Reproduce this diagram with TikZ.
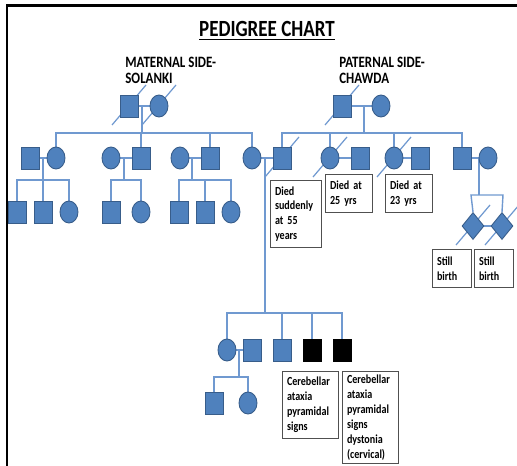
\documentclass[tikz,border=0pt]{standalone}
\usepackage{fontspec}
\setmainfont{Carlito}[FakeStretch=0.82]
\usetikzlibrary{shapes.geometric,backgrounds}

\definecolor{pedfill}{HTML}{4F81BD}
\definecolor{peddraw}{HTML}{385D8A}
\definecolor{pedline}{HTML}{7099D0}
\definecolor{boxgray}{HTML}{505050}

\begin{document}
\begin{tikzpicture}[
    x=0.02cm, y=-0.02cm,
    male/.style={draw=peddraw, fill=pedfill, line width=0.5pt, minimum width=3.6mm, minimum height=4.4mm, inner sep=0pt},
    female/.style={male, ellipse},
    unknown/.style={male, diamond, minimum width=4.4mm, minimum height=5.4mm},
    affected/.style={male, draw=black, fill=black},
    line/.style={draw=pedline, line width=0.8pt},
    slash/.style={draw=pedline, line width=0.7pt},
    note/.style={draw=boxgray, line width=0.7pt, fill=white, anchor=north west, align=left, inner sep=2.5pt, font=\bfseries\fontsize{7}{8.5}\selectfont},
    side/.style={anchor=north west, align=left, inner sep=0pt, font=\bfseries\fontsize{9}{9.2}\selectfont}
]
\useasboundingbox (0,0) rectangle (517,466);
\clip (0,0) rectangle (517,466);

% titles
\node[font=\bfseries\fontsize{13.2}{14}\selectfont] (title) at (267,31) {\underline{PEDIGREE CHART}};
\node[side] (mat) at (125,57) {MATERNAL SIDE-\\SOLANKI};
\node[side] (pat) at (339,57) {PATERNAL SIDE-\\CHAWDA};

% generation I
\node[male] (mgf) at (129,106) {};
\node[female] (mgm) at (159,106) {};
\node[male] (pgf) at (342,106) {};
\node[female] (pgm) at (381,106) {};

% generation II, maternal side
\node[male] (u1) at (30,158) {};
\node[female] (ma1) at (56,158) {};
\node[female] (w2) at (111,158) {};
\node[male] (ma2) at (141,158) {};
\node[female] (w3) at (180,158) {};
\node[male] (ma3) at (210,158) {};
\node[female] (mo) at (252,158) {};

% generation II, paternal side
\node[male] (fa) at (282,158) {};
\node[female] (pa1) at (330,158) {};
\node[male] (h1) at (360,158) {};
\node[female] (pa2) at (394,158) {};
\node[male] (h2) at (420,158) {};
\node[male] (pa3) at (462,158) {};
\node[female] (w4) at (488,158) {};

% cousins
\node[male] (k11) at (17,212) {};
\node[male] (k12) at (43,212) {};
\node[female] (k13) at (69,212) {};
\node[male] (k21) at (111,212) {};
\node[female] (k22) at (141,212) {};
\node[male] (k31) at (179,212) {};
\node[male] (k32) at (205,212) {};
\node[female] (k33) at (231,212) {};
\node[unknown] (tw1) at (473,226) {};
\node[unknown] (tw2) at (502,226) {};

% generation III
\node[female] (si) at (227,350) {};
\node[male] (sp) at (252,350) {};
\node[male] (br) at (282,350) {};
\node[affected] (pt1) at (312,350) {};
\node[affected] (pt2) at (342,350) {};

% generation IV
\node[male] (g1) at (214,403) {};
\node[female] (g2) at (248,403) {};

% notes
\node[note, text width=0.84cm, minimum height=1.34cm] (n55) at (270,180) {Died\\suddenly\\at 55\\years};
\node[note, text width=0.76cm, minimum height=0.76cm] (n25) at (325,174) {Died at\\25 yrs};
\node[note, text width=0.76cm, minimum height=0.76cm] (n23) at (385,174) {Died at\\23 yrs};
\node[note, text width=0.6cm, minimum height=0.76cm] (sb1) at (432,249) {Still\\birth};
\node[note, text width=0.6cm, minimum height=0.76cm] (sb2) at (474,249) {Still\\birth};
\node[note, text width=0.94cm, minimum height=1.34cm] (cb1) at (282,371) {Cerebellar\\ataxia\\pyramidal\\signs};
\node[note, text width=0.94cm, inner ysep=2pt] (cb2) at (342,371) {Cerebellar\\ataxia\\pyramidal\\signs\\dystonia\\(cervical)};

\begin{pgfonlayer}{background}
% frame
\draw[line width=1.4pt] (7,5.5) rectangle (540,490);

% couples
\foreach \a/\b in {mgf/mgm, pgf/pgm, u1/ma1, w2/ma2, w3/ma3, mo/fa, pa1/h1, pa2/h2, pa3/w4, si/sp}
  \draw[line] (\a.east) -- (\b.west);

% maternal sibship
\coordinate (msib) at (142,133);
\draw[line] (msib |- mgf) -- (msib);
\draw[line] (ma1.north) -- (ma1.north |- msib) -- (mo.north |- msib) -- (mo.north);
\foreach \n in {ma2,ma3}
  \draw[line] (\n.north) -- (\n.north |- msib);

% paternal sibship
\coordinate (psib) at (364,133);
\draw[line] (psib |- pgf) -- (psib);
\draw[line] (fa.north) -- (fa.north |- psib) -- (pa3.north |- psib) -- (pa3.north);
\foreach \n in {pa1,pa2}
  \draw[line] (\n.north) -- (\n.north |- psib);

% cousins
\coordinate (c1) at (43,180);
\draw[line] (c1 |- u1) -- (c1);
\draw[line] (k11.north) -- (k11.north |- c1) -- (k13.north |- c1) -- (k13.north);
\draw[line] (k12.north) -- (k12.north |- c1);
\coordinate (c2) at (124,180);
\draw[line] (c2 |- w2) -- (c2);
\draw[line] (k21.north) -- (k21.north |- c2) -- (k22.north |- c2) -- (k22.north);
\coordinate (c3) at (192,180);
\draw[line] (c3 |- w3) -- (c3);
\draw[line] (k31.north) -- (k31.north |- c3) -- (k33.north |- c3) -- (k33.north);
\draw[line] (k32.north) -- (k32.north |- c3);

% twins
\coordinate (tsib) at (479,195);
\coordinate (tl) at (471,195);
\coordinate (tr) at (503,195);
\draw[line] (tsib |- w4) -- (tsib);
\draw[line] (tw1.north) -- (tl) -- (tr) -- (tw2.north);
\draw[line] (tw1.east) -- (tw2.west);

% generation III
\coordinate (fsib) at (265,313);
\draw[line] (fsib |- fa) -- (fsib);
\draw[line] (si.north) -- (si.north |- fsib) -- (pt2.north |- fsib) -- (pt2.north);
\foreach \n in {br,pt1}
  \draw[line] (\n.north) -- (\n.north |- fsib);

% generation IV
\coordinate (gsib) at (239,377);
\draw[line] (gsib |- si) -- (gsib);
\draw[line] (g1.north) -- (g1.north |- gsib) -- (g2.north |- gsib) -- (g2.north);

% deceased
\foreach \n in {mgf,mgm,pgf,fa,pa1,pa2,tw1,tw2}
  \draw[slash] (\n) ++(-17,19) -- ++(34,-40);
\end{pgfonlayer}
\end{tikzpicture}
\end{document}
